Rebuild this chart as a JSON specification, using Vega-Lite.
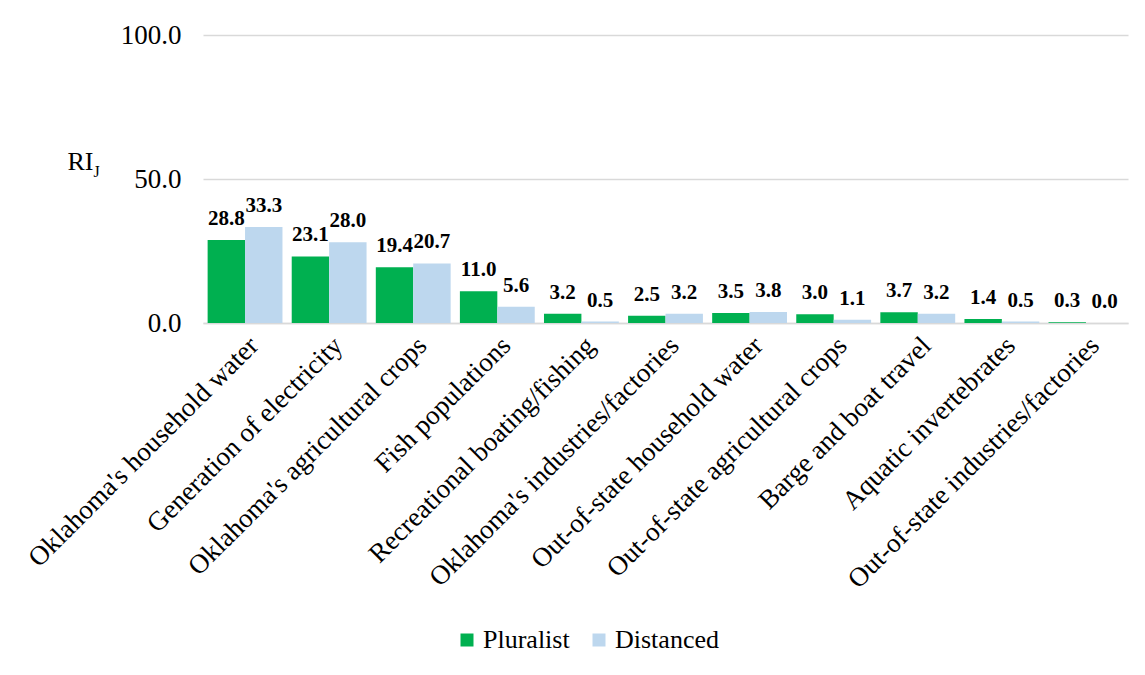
{
  "$schema": "https://vega.github.io/schema/vega-lite/v6.json",
  "width": 925,
  "height": 288,
  "autosize": {"type": "none"},
  "padding": {"left": 203, "top": 35, "right": 17, "bottom": 352},
  "background": "white",
  "config": {
    "font": "Liberation Serif",
    "view": {"stroke": null}
  },
  "data": {
    "values": [
      {"cat": "Oklahoma's household water", "group": "Pluralist", "value": 28.8},
      {"cat": "Oklahoma's household water", "group": "Distanced", "value": 33.3},
      {"cat": "Generation of electricity", "group": "Pluralist", "value": 23.1},
      {"cat": "Generation of electricity", "group": "Distanced", "value": 28.0},
      {"cat": "Oklahoma's agricultural crops", "group": "Pluralist", "value": 19.4},
      {"cat": "Oklahoma's agricultural crops", "group": "Distanced", "value": 20.7},
      {"cat": "Fish populations", "group": "Pluralist", "value": 11.0},
      {"cat": "Fish populations", "group": "Distanced", "value": 5.6},
      {"cat": "Recreational boating/fishing", "group": "Pluralist", "value": 3.2},
      {"cat": "Recreational boating/fishing", "group": "Distanced", "value": 0.5},
      {"cat": "Oklahoma's industries/factories", "group": "Pluralist", "value": 2.5},
      {"cat": "Oklahoma's industries/factories", "group": "Distanced", "value": 3.2},
      {"cat": "Out-of-state household water", "group": "Pluralist", "value": 3.5},
      {"cat": "Out-of-state household water", "group": "Distanced", "value": 3.8},
      {"cat": "Out-of-state agricultural crops", "group": "Pluralist", "value": 3.0},
      {"cat": "Out-of-state agricultural crops", "group": "Distanced", "value": 1.1},
      {"cat": "Barge and boat travel", "group": "Pluralist", "value": 3.7},
      {"cat": "Barge and boat travel", "group": "Distanced", "value": 3.2},
      {"cat": "Aquatic invertebrates", "group": "Pluralist", "value": 1.4},
      {"cat": "Aquatic invertebrates", "group": "Distanced", "value": 0.5},
      {"cat": "Out-of-state industries/factories", "group": "Pluralist", "value": 0.3},
      {"cat": "Out-of-state industries/factories", "group": "Distanced", "value": 0.0}
    ]
  },
  "encoding": {
    "x": {
      "field": "cat",
      "type": "nominal",
      "sort": null,
      "scale": {"paddingInner": 0.11, "paddingOuter": 0.055},
      "axis": {
        "title": null,
        "labelAngle": -45,
        "labelFontSize": 27,
        "labelColor": "black",
        "labelLimit": 600,
        "labelPadding": 9,
        "ticks": false,
        "domain": true,
        "domainColor": "#D9D9D9",
        "domainWidth": 1.5
      }
    },
    "xOffset": {"field": "group", "type": "nominal", "sort": ["Pluralist", "Distanced"], "scale": {"paddingInner": 0, "paddingOuter": 0}}
  },
  "layer": [
    {
      "mark": {"type": "bar"},
      "encoding": {
        "y": {
          "field": "value",
          "type": "quantitative",
          "scale": {"domain": [0, 100], "nice": false},
          "axis": {
            "values": [0, 50, 100],
            "format": ".1f",
            "labelFontSize": 27,
            "labelColor": "black",
            "labelPadding": 22,
            "ticks": false,
            "domain": false,
            "grid": true,
            "gridColor": "#D9D9D9",
            "gridWidth": 1.5,
            "title": "RI",
            "titleFontSize": 26,
            "titleFontWeight": "normal",
            "titleColor": "black",
            "titleAngle": 0,
            "titleAlign": "left",
            "titleBaseline": "alphabetic",
            "titleX": -136,
            "titleY": 134
          }
        },
        "color": {
          "field": "group",
          "type": "nominal",
          "sort": ["Pluralist", "Distanced"],
          "scale": {"domain": ["Pluralist", "Distanced"], "range": ["#00B050", "#BDD7EE"]},
          "legend": {
            "title": null,
            "orient": "none",
            "direction": "horizontal",
            "legendX": 251,
            "legendY": 592,
            "symbolType": "square",
            "symbolSize": 169,
            "symbolStrokeWidth": 0,
            "labelFontSize": 26,
            "labelColor": "black",
            "labelOffset": 3,
            "columnPadding": 16
          }
        }
      }
    },
    {
      "mark": {"type": "text", "fontWeight": "bold", "fontSize": 21, "baseline": "alphabetic", "dy": -15, "color": "black"},
      "encoding": {
        "y": {
          "field": "value",
          "type": "quantitative",
          "scale": {"domain": [0, 100], "nice": false},
          "axis": {
            "orient": "right",
            "labels": false,
            "ticks": false,
            "domain": false,
            "grid": false,
            "title": "J",
            "titleFontSize": 16,
            "titleFontWeight": "normal",
            "titleColor": "black",
            "titleAngle": 0,
            "titleAlign": "left",
            "titleBaseline": "alphabetic",
            "titleX": -1035,
            "titleY": 141
          }
        },
        "text": {"field": "value", "type": "quantitative", "format": ".1f"}
      }
    }
  ],
  "resolve": {"scale": {"y": "independent"}}
}
